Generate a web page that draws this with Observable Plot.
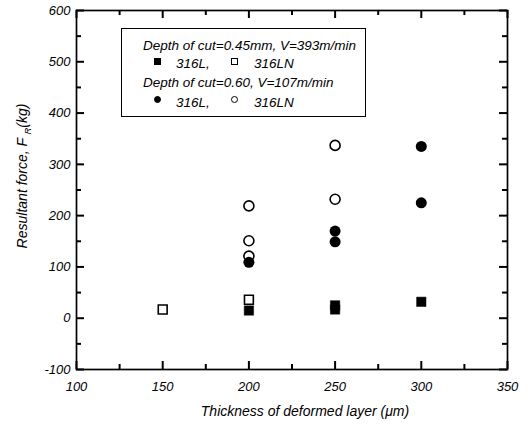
<!DOCTYPE html>
<html><head><meta charset="utf-8">
<script src="https://cdn.jsdelivr.net/npm/d3@7"></script>
<script src="https://cdn.jsdelivr.net/npm/@observablehq/plot@0.6"></script>
<style>
body{margin:0;background:#fff;}
#wrap{position:relative;width:531px;height:428px;font-family:"Liberation Sans",Arial,sans-serif;font-style:italic;color:#000;}
#legend{position:absolute;left:121px;top:28px;width:245px;height:89px;border:1.4px solid #000;box-sizing:border-box;background:#fff;font-size:13.5px;}
#legend .t{position:absolute;white-space:nowrap;line-height:1;}
#legend .m{position:absolute;box-sizing:border-box;}
</style></head><body><div id="wrap"></div>
<script>
// axis ticks
const xTicks = [100, 150, 200, 250, 300, 350];
const xMinor = [125, 175, 225, 275, 325];
const yTicks = [-100, 0, 100, 200, 300, 400, 500, 600];
const yMinor = [-50, 50, 150, 250, 350, 450, 550];

// Depth of cut = 0.45 mm, V = 393 m/min (squares)
const sq316L_x = [200, 250, 250, 300];
const sq316L_y = [15, 17, 25, 32];
const sq316LN_x = [150, 200];
const sq316LN_y = [17, 36];
// Depth of cut = 0.60, V = 107 m/min (circles)
const ci316L_x = [200, 250, 250, 300, 300];
const ci316L_y = [109, 170, 149, 335, 225];
const ci316LN_x = [200, 200, 200, 250, 250];
const ci316LN_y = [219, 151, 121, 337, 232];

const legendTitles = ["Depth of cut=0.45mm, V=393m/min", "Depth of cut=0.60, V=107m/min"];
const legendNames = ["316L,", "316LN"];
const xLabel = "Thickness of deformed layer (\u03bcm)";

const zip = (xs, ys) => xs.map((x, i) => ({x, y: ys[i]}));

const W = 531, H = 428, mL = 76, mR = 24, mT = 10, mB = 59;
const pw = W - mL - mR, ph = H - mT - mB;
const big = 8, small = 5;
const font = '"Liberation Sans", Arial, sans-serif';
const tk = {stroke: "#000", strokeWidth: 2};

const chart = Plot.plot({
  width: W, height: H,
  marginLeft: mL, marginRight: mR, marginTop: mT, marginBottom: mB,
  style: {fontFamily: font, fontSize: "13px", color: "#000", background: "#fff"},
  x: {domain: [100, 350]},
  y: {domain: [-100, 600]},
  marks: [
    Plot.axisX(xTicks, {anchor: "bottom", tickSize: 0, tickPadding: 12, fontSize: 13, fontStyle: "italic", fontFamily: font, fill: "#000", tickFormat: d => String(d), label: null}),
    Plot.axisY(yTicks, {anchor: "left", tickSize: 0, tickPadding: 6, fontSize: 13, fontStyle: "italic", fontFamily: font, fill: "#000", tickFormat: d => String(d), label: null}),
    // inward ticks on all four sides
    Plot.ruleX(xTicks, {x: d => d, insetTop: ph - big, ...tk}),
    Plot.ruleX(xMinor, {x: d => d, insetTop: ph - small, ...tk}),
    Plot.ruleX(xTicks, {x: d => d, insetBottom: ph - big, ...tk}),
    Plot.ruleX(xMinor, {x: d => d, insetBottom: ph - small, ...tk}),
    Plot.ruleY(yTicks, {y: d => d, insetRight: pw - big, ...tk}),
    Plot.ruleY(yMinor, {y: d => d, insetRight: pw - small, ...tk}),
    Plot.ruleY(yTicks, {y: d => d, insetLeft: pw - big, ...tk}),
    Plot.ruleY(yMinor, {y: d => d, insetLeft: pw - small, ...tk}),
    Plot.frame({stroke: "#000", strokeWidth: 1.7}),
    // open markers first, filled drawn over them
    Plot.dot(zip(sq316LN_x, sq316LN_y), {x: "x", y: "y", symbol: "square", r: 5, fill: "#fff", stroke: "#000", strokeWidth: 1.6}),
    Plot.dot(zip(ci316LN_x, ci316LN_y), {x: "x", y: "y", symbol: "circle", r: 5, fill: "#fff", stroke: "#000", strokeWidth: 1.6}),
    Plot.dot(zip(sq316L_x, sq316L_y), {x: "x", y: "y", symbol: "square", r: 5.3, fill: "#000", stroke: "#000", strokeWidth: 0.5}),
    Plot.dot(zip(ci316L_x, ci316L_y), {x: "x", y: "y", symbol: "circle", r: 5.5, fill: "#000", stroke: "none"}),
    Plot.text([xLabel], {text: d => d, frameAnchor: "bottom", dy: 46, dx: 13, fontSize: 14, fontStyle: "italic", fontFamily: font, fill: "#000"})
  ]
});

// y axis label with subscript
const svg = d3.select(chart);
const yl = svg.append("text")
  .attr("transform", "translate(27,176) rotate(-90)")
  .attr("text-anchor", "middle")
  .attr("font-size", 14)
  .attr("font-style", "italic")
  .attr("font-family", font)
  .attr("fill", "#000");
yl.append("tspan").text("Resultant force, F ");
yl.append("tspan").attr("font-size", 9).attr("dy", 4).text("R");
yl.append("tspan").attr("dy", -4).text("(kg)");

const wrap = document.getElementById("wrap");
wrap.appendChild(chart);

// legend box
const lg = document.createElement("div");
lg.id = "legend";
const rows = [
  {type: "t", text: legendTitles[0], top: 10, left: 21},
  {type: "m", shape: "sq", fill: true, top: 29, left: 32},
  {type: "t", text: legendNames[0], top: 28, left: 54},
  {type: "m", shape: "sq", fill: false, top: 29, left: 109},
  {type: "t", text: legendNames[1], top: 28, left: 132},
  {type: "t", text: legendTitles[1], top: 47, left: 21},
  {type: "m", shape: "ci", fill: true, top: 67, left: 32},
  {type: "t", text: legendNames[0], top: 67, left: 54},
  {type: "m", shape: "ci", fill: false, top: 67, left: 109},
  {type: "t", text: legendNames[1], top: 67, left: 132}
];
for (const r of rows) {
  const el = document.createElement("span");
  el.className = r.type;
  el.style.top = r.top + "px";
  el.style.left = r.left + "px";
  if (r.type === "t") el.textContent = r.text;
  else {
    el.style.width = "7px"; el.style.height = "7px";
    el.style.border = "1.3px solid #000";
    el.style.background = r.fill ? "#000" : "#fff";
    if (r.shape === "ci") el.style.borderRadius = "50%";
  }
  lg.appendChild(el);
}
wrap.appendChild(lg);
</script>
</body></html>
